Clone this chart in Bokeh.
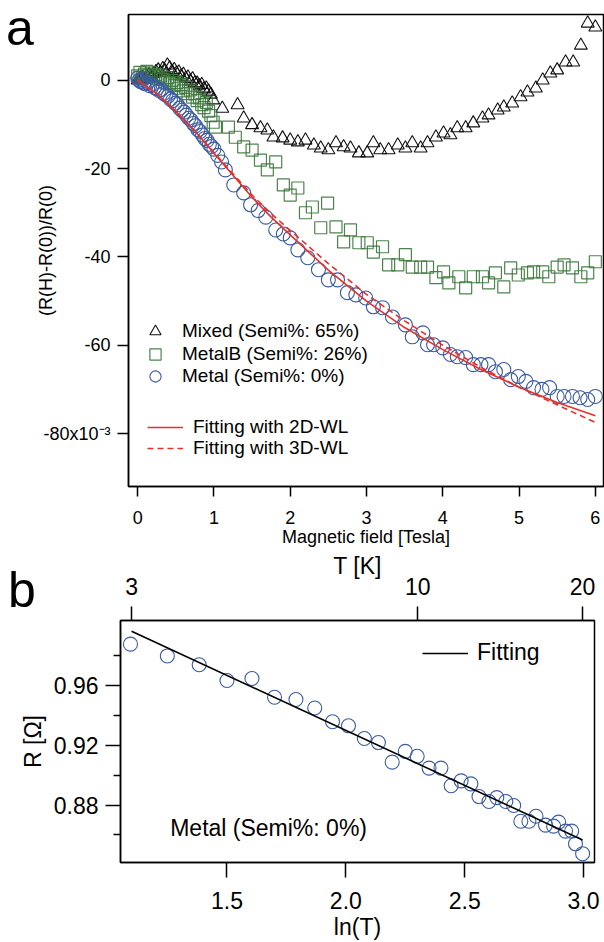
import numpy as np
from bokeh.plotting import figure
from bokeh.layouts import column
from bokeh.models import (Range1d, FixedTicker, LinearAxis, Legend, LegendItem,
                          Label, CustomJSTickFormatter, Div)
from bokeh.embed import file_html
from bokeh.resources import INLINE

FONT = "Liberation Sans"
BLUE = "#3a5ba0"
GREEN = "#3b763b"
RED = "#e8302a"
BLACK = "#111111"

# ---------------- panel a data ----------------
x_metal = [0.00, 0.02, 0.04, 0.06, 0.08, 0.10, 0.13, 0.16, 0.19, 0.22, 0.25, 0.28, 0.31, 0.34, 0.37, 0.40,
           0.43, 0.46, 0.49, 0.52, 0.55, 0.58, 0.61, 0.64, 0.67, 0.70, 0.73, 0.76, 0.79, 0.82, 0.85, 0.88,
           0.91, 0.94, 0.97, 1.00,
           1.05, 1.10, 1.15, 1.26, 1.39, 1.48, 1.58, 1.68, 1.81, 1.91, 2.00, 2.10, 2.23, 2.37, 2.50, 2.62,
           2.75, 2.86, 2.99, 3.09, 3.21, 3.34, 3.51, 3.60, 3.74, 3.80, 3.88, 4.00, 4.10, 4.19, 4.30, 4.40,
           4.50, 4.60, 4.69, 4.80, 4.89, 4.99, 5.09, 5.19, 5.30, 5.40, 5.50, 5.59, 5.70, 5.80, 5.90, 6.00]
y_metal = [0.5, 0.0, -0.3, 0.2, -0.6, -0.8, -0.5, -1.2, -1.0, -1.6, -1.9, -2.3, -2.1, -3.0, -3.3, -3.6,
           -4.3, -4.6, -5.2, -5.5, -6.3, -6.8, -7.2, -7.9, -8.6, -9.0, -9.8, -10.3, -11.2, -11.6, -12.4, -13.2,
           -13.6, -14.5, -15.0, -15.6,
           -17.0, -18.5, -20.3, -23.7, -25.5, -28.2, -29.5, -31.0, -33.9, -34.8, -35.7, -38.4, -40.2, -42.9, -45.2, -45.2,
           -48.1, -48.6, -49.3, -51.3, -51.5, -53.6, -55.4, -58.1, -57.2, -59.9, -59.9, -60.6, -62.1, -62.6, -62.8, -64.4,
           -64.4, -64.4, -66.0, -65.5, -67.8, -67.1, -68.2, -69.6, -70.0, -69.6, -71.6, -71.6, -71.6, -71.9, -72.3, -71.6]

x_mixed = [0.00, 0.03, 0.06, 0.09, 0.12, 0.15, 0.18, 0.21, 0.24, 0.27, 0.30, 0.33, 0.36, 0.39, 0.42, 0.45,
           0.48, 0.51, 0.54, 0.57, 0.60, 0.63, 0.66, 0.69, 0.72, 0.75, 0.78, 0.81, 0.84, 0.87, 0.90, 0.93,
           0.96, 0.99,
           1.11, 1.31, 1.39, 1.50, 1.61, 1.70, 1.78, 1.90, 2.00, 2.10, 2.20, 2.31, 2.40, 2.50, 2.60, 2.70,
           2.79, 2.90, 3.01, 3.09, 3.18, 3.29, 3.41, 3.51, 3.60, 3.71, 3.80, 3.91, 4.01, 4.10, 4.19, 4.30,
           4.40, 4.52, 4.60, 4.72, 4.80, 4.91, 5.02, 5.11, 5.22, 5.31, 5.41, 5.50, 5.61, 5.71, 5.81, 5.90, 6.00]
y_mixed = [0.0, 0.3, 0.6, 0.2, 0.9, 1.2, 0.8, 1.5, 1.9, 2.3, 1.7, 2.6, 2.1, 3.4, 2.8, 2.0,
           2.4, 1.6, 1.8, 0.9, 1.3, 0.4, 0.7, -0.2, 0.3, -0.6, -0.7, -1.3, -1.0, -2.0, -1.8, -2.5,
           -3.2, -4.5,
           -6.4, -5.6, -8.6, -10.1, -10.8, -11.3, -12.9, -13.1, -13.6, -14.0, -13.6, -14.7, -15.4, -15.8, -14.2, -15.1,
           -15.4, -16.5, -16.5, -14.2, -15.8, -15.8, -14.7, -15.4, -14.2, -15.4, -14.2, -12.9, -12.0, -12.4, -10.8, -10.8,
           -9.7, -8.6, -7.9, -6.8, -6.1, -5.2, -3.8, -2.7, -1.8, 0.0, 1.6, 2.3, 4.1, 4.1, 7.9, 12.9, 12.0]

x_metalb = [0.00, 0.03, 0.06, 0.09, 0.12, 0.15, 0.18, 0.21, 0.24, 0.27, 0.30, 0.33, 0.36, 0.39, 0.42, 0.45,
            0.48, 0.51, 0.54, 0.57, 0.60, 0.63, 0.66, 0.69, 0.72, 0.75, 0.78, 0.81, 0.84, 0.87, 0.90, 0.93,
            0.96, 0.99,
            1.02, 1.19, 1.28, 1.39, 1.50, 1.61, 1.70, 1.81, 1.91, 2.00, 2.10, 2.20, 2.29, 2.40, 2.49, 2.60,
            2.70, 2.79, 2.90, 3.01, 3.09, 3.21, 3.29, 3.41, 3.51, 3.60, 3.71, 3.80, 3.91, 4.01, 4.08, 4.21,
            4.30, 4.40, 4.52, 4.60, 4.69, 4.80, 4.89, 4.99, 5.11, 5.19, 5.31, 5.39, 5.50, 5.59, 5.70, 5.81, 5.90, 6.00]
y_metalb = [1.0, 1.8, 0.6, 1.4, 2.0, 1.1, 1.7, 0.8, 1.3, 0.5, 1.0, 0.2, -0.4, 0.6, -0.8, 0.0,
            -1.2, -0.5, -1.8, -1.0, -2.4, -1.6, -3.0, -2.2, -3.8, -3.0, -4.6, -4.0, -5.5, -6.2, -5.0, -7.0,
            -8.0, -9.5,
            -10.6, -10.6, -12.9, -15.1, -15.8, -18.1, -20.3, -18.5, -23.7, -26.0, -24.4, -30.0, -28.7, -33.4, -27.8, -33.2,
            -36.6, -33.9, -36.8, -36.8, -38.9, -37.7, -41.8, -41.8, -39.5, -42.3, -42.3, -42.3, -44.7, -43.4, -45.9, -44.5,
            -47.0, -44.5, -44.5, -45.9, -43.6, -46.8, -42.5, -44.1, -43.6, -43.4, -43.4, -44.5, -42.3, -41.8, -42.5, -44.5, -43.6, -41.1]

x_fit_a = [0.0, 0.25, 0.5, 0.75, 1.0, 1.25, 1.5, 1.75, 2.0, 2.5, 3.0, 3.5, 4.0, 4.5, 5.0, 5.5, 6.0]
y_fit_2d = [0.0, -3.0, -7.0, -11.5, -16.5, -21.5, -26.5, -31.0, -35.0, -43.0, -50.0, -56.0, -61.0, -65.5, -69.5, -73.0, -76.0]
y_fit_3d = [0.0, -3.0, -7.0, -11.5, -16.3, -21.2, -26.0, -30.2, -34.0, -41.5, -48.5, -54.5, -60.0, -65.0, -69.5, -73.5, -77.5]

x_ticks_a = [0, 1, 2, 3, 4, 5, 6]
y_ticks_a = [0, -20, -40, -60, -80]

labels_a = ["Mixed (Semi%: 65%)", "MetalB (Semi%: 26%)", "Metal (Semi%: 0%)"]
labels_fit_a = ["Fitting with 2D-WL", "Fitting with 3D-WL"]

# ---------------- panel b data ----------------
lnT_b = [1.094, 1.249, 1.383, 1.500, 1.605, 1.700, 1.790, 1.869, 1.944, 2.011, 2.078, 2.137, 2.195, 2.250,
         2.300, 2.350, 2.400, 2.443, 2.485, 2.526, 2.560, 2.602, 2.635, 2.673, 2.706, 2.736, 2.770, 2.800,
         2.840, 2.874, 2.895, 2.924, 2.950, 2.966, 2.996]
R_b = [0.9876, 0.9797, 0.9738, 0.9633, 0.9646, 0.9521, 0.9506, 0.9449, 0.9357, 0.9330, 0.9245, 0.9218, 0.9087, 0.9159,
       0.9126, 0.9047, 0.9047, 0.8929, 0.8962, 0.8942, 0.8857, 0.8824, 0.8850, 0.8824, 0.8797, 0.8692, 0.8692, 0.8725,
       0.8666, 0.8659, 0.8686, 0.8626, 0.8626, 0.8541, 0.8475]
lnT_fit = [1.0986, 2.9957]
R_fit = [0.9962, 0.8567]

x_ticks_b = [1.5, 2.0, 2.5, 3.0]
y_ticks_b = [0.88, 0.92, 0.96]
y_minor_b = [0.86, 0.90, 0.94, 0.98]
T_top = [3, 10, 20]

panel_letters = ["a", "b"]


def style_axis(ax, size, tick_out, standoff, title_standoff):
    ax.axis_line_color = "black"
    ax.axis_line_width = 1.5
    ax.major_tick_out = tick_out
    ax.major_tick_in = 0
    ax.major_tick_line_width = 1.5
    ax.major_tick_line_color = "black"
    ax.minor_tick_in = 0
    ax.minor_tick_out = 0
    ax.major_label_text_font = FONT
    ax.major_label_text_font_size = size
    ax.major_label_text_color = "black"
    ax.major_label_standoff = standoff
    ax.axis_label_text_font = FONT
    ax.axis_label_text_font_size = size
    ax.axis_label_text_font_style = "normal"
    ax.axis_label_text_color = "black"
    ax.axis_label_standoff = title_standoff


def legend(items, loc, gw, gh, standoff, size):
    return Legend(items=items, location=loc, glyph_width=gw, glyph_height=gh, label_standoff=standoff,
                  label_height=20, spacing=0, padding=0, margin=0, border_line_alpha=0,
                  background_fill_alpha=0, label_text_font=FONT, label_text_font_size=size,
                  label_text_color="black")


# ================= panel a =================
pa = figure(width=604, height=549, x_range=Range1d(-0.12, 6.107), y_range=Range1d(-92.0, 14.9),
            output_backend="svg", toolbar_location=None, frame_align=False,
            min_border_left=128, min_border_right=1, min_border_top=14, min_border_bottom=62)
pa.xgrid.visible = False
pa.ygrid.visible = False
pa.outline_line_color = "black"
pa.outline_line_width = 1.5
pa.outline_line_alpha = 1.0

pa.xaxis.ticker = FixedTicker(ticks=x_ticks_a)
pa.yaxis.ticker = FixedTicker(ticks=y_ticks_a)
pa.yaxis.formatter = CustomJSTickFormatter(
    code='return tick == -80 ? "-80x10\u207b\u00b3" : String(tick);')
style_axis(pa.xaxis[0], "18px", 10, 14, 0)
style_axis(pa.yaxis[0], "18px", 11, 7, -16)
pa.xaxis.axis_label = "Magnetic field [Tesla]"
pa.yaxis.axis_label = "(R(H)-R(0))/R(0)"

r_mixed = pa.scatter(x_mixed, y_mixed, marker="triangle", size=13, fill_color=None,
                     line_color=BLACK, line_width=1.1)
r_metalb = pa.scatter(x_metalb, y_metalb, marker="square", size=12, fill_color=None,
                      line_color=GREEN, line_width=1.2, line_alpha=0.9)
r_metal = pa.scatter(x_metal, y_metal, marker="circle", size=14, fill_color=None,
                     line_color=BLUE, line_width=1.1)
r_2d = pa.line(x_fit_a, y_fit_2d, line_color=RED, line_width=1.6)
r_3d = pa.line(x_fit_a, y_fit_3d, line_color=RED, line_width=1.6, line_dash="6 4")

pa.add_layout(legend([LegendItem(label=labels_a[0], renderers=[r_mixed])], (13, 141), 28, 28, 13, "19px"))
pa.add_layout(legend([LegendItem(label=labels_a[1], renderers=[r_metalb])], (13, 118), 28, 28, 13, "19px"))
pa.add_layout(legend([LegendItem(label=labels_a[2], renderers=[r_metal])], (13, 96), 28, 28, 13, "19px"))
pa.add_layout(legend([LegendItem(label=labels_fit_a[0], renderers=[r_2d])], (19, 48), 36, 20, 10, "19px"))
pa.add_layout(legend([LegendItem(label=labels_fit_a[1], renderers=[r_3d])], (19, 27), 36, 20, 10, "19px"))

# ================= panel b =================
pb = figure(width=604, height=393, x_range=Range1d(1.052, 3.046), y_range=Range1d(0.8416, 1.0034),
            output_backend="svg", toolbar_location=None, frame_align=False,
            min_border_left=120, min_border_right=10, min_border_top=70, min_border_bottom=77)
pb.xgrid.visible = False
pb.ygrid.visible = False
pb.outline_line_color = "black"
pb.outline_line_width = 1.5
pb.outline_line_alpha = 1.0

pb.xaxis.ticker = FixedTicker(ticks=x_ticks_b)
pb.xaxis.formatter = CustomJSTickFormatter(code="return tick.toFixed(1);")
pb.yaxis.ticker = FixedTicker(ticks=y_ticks_b, minor_ticks=y_minor_b)
pb.yaxis.formatter = CustomJSTickFormatter(code="return tick.toFixed(2);")
style_axis(pb.xaxis[0], "23px", 15, 14, 2)
style_axis(pb.yaxis[0], "23px", 15, 7, 5)
pb.yaxis.minor_tick_out = 7
pb.yaxis.minor_tick_line_width = 1.5
pb.yaxis.minor_tick_line_color = "black"
pb.xaxis.axis_label = "ln(T)"
pb.yaxis.axis_label = "R [\u03a9]"

top = LinearAxis(ticker=FixedTicker(ticks=[float(np.log(t)) for t in T_top]),
                 formatter=CustomJSTickFormatter(code="return Math.round(Math.exp(tick)).toString();"),
                 axis_label="T [K]")
style_axis(top, "23px", 14, 12, -4)
pb.add_layout(top, "above")

r_b = pb.scatter(lnT_b, R_b, marker="circle", size=14, fill_color=None, line_color=BLUE, line_width=1.1)
r_fit_b = pb.line(lnT_fit, R_fit, line_color="black", line_width=1.6)

pb.add_layout(legend([LegendItem(label="Fitting", renderers=[r_fit_b])], (302, 196), 46, 20, 9, "23px"))

pb.add_layout(Label(x=1.261, y=0.8646, text="Metal (Semi%: 0%)", text_font=FONT, text_font_size="23px",
                    text_baseline="middle", text_align="left", text_color="black"))

# panel letters (page-level text)
span = ("<span style=\"position:fixed;left:{l}px;top:{t}px;font-family:'Liberation Sans';"
        "font-size:50px;line-height:50px;color:#000;z-index:1000;margin:0;padding:0\">{s}</span>")
letters = Div(text=span.format(l=6, t=3, s=panel_letters[0]) + span.format(l=8, t=565, s=panel_letters[1]),
              width=10, height=0)

layout = column(pa, pb, letters)
open("out.html", "w").write(file_html(layout, INLINE))
